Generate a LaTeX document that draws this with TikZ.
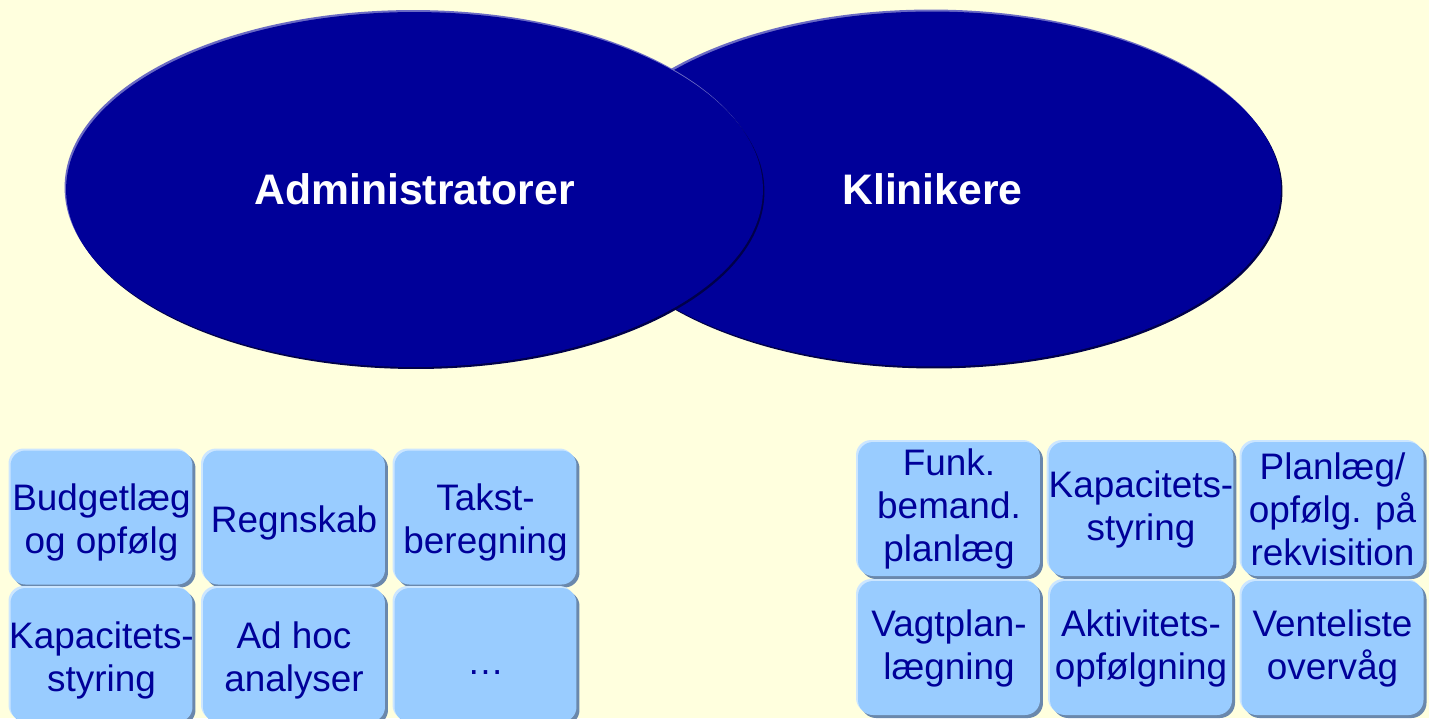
\documentclass[tikz,border=0pt]{standalone}
\usepackage{fontspec}
\setmainfont{Liberation Sans}
\usetikzlibrary{shapes.geometric}
\definecolor{bg}{HTML}{FFFFDE}
\definecolor{ellfill}{HTML}{000099}
\definecolor{ellhi}{HTML}{6A6AC4}
\definecolor{ellsh}{HTML}{00004A}
\definecolor{boxfill}{HTML}{99CCFF}
\definecolor{boxhi}{HTML}{CCE6FF}
\definecolor{boxsh}{HTML}{6A88AC}
\definecolor{boxtext}{HTML}{000099}
\begin{document}
\begin{tikzpicture}[x=0.02cm,y=-0.02cm,
  group/.style={ellipse, minimum width=13.94cm, minimum height=7.1cm, inner sep=0pt,
    fill=ellfill,
    preaction={fill=ellhi, transform canvas={xshift=-0.03cm,yshift=0.04cm}},
    preaction={fill=ellsh, transform canvas={xshift=0.03cm,yshift=-0.04cm}},
    text=white, font=\fontsize{24.3pt}{28pt}\selectfont\bfseries},
  tasklbl/.style={text=boxtext, align=center, inner sep=0pt,
    font=\fontsize{21pt}{24.5pt}\selectfont},
  task/.style={rectangle, rounded corners=0.3cm, minimum width=3.64cm, minimum height=2.68cm,
    inner sep=0pt, fill=boxfill,
    preaction={fill=boxhi, transform canvas={xshift=-0.04cm,yshift=0.04cm}},
    preaction={fill=boxsh, transform canvas={xshift=0.06cm,yshift=-0.06cm}},
    tasklbl}]
\useasboundingbox (0,0) rectangle (1429,718);
\fill[bg] (0,0) rectangle (1429,718);

\node[group] (klin) at (932.5,189) {Klinikere};
\node[group] (adm) at (414.5,189.5) {Administratorer};

% left group
\node[task, label={[tasklbl, yshift=-0.1cm]center:{Budgetlæg\\og opfølg}}] (a1) at (101.5,517.5) {};
\node[task, label={[tasklbl, yshift=-0.1cm]center:{Regnskab}}] (a2) at (294,517.5) {};
\node[task, label={[tasklbl, yshift=-0.1cm]center:{Takst-\\beregning}}] (a3) at (485.5,517.5) {};
\node[task, label={[tasklbl, yshift=-0.1cm]center:{Kapacitets-\\styring}}] (a4) at (101.5,655) {};
\node[task, label={[tasklbl, yshift=-0.1cm]center:{Ad hoc\\analyser}}] (a5) at (294,655) {};
\node[task, label={[tasklbl, yshift=-0.36cm]center:{…}}] (a6) at (485.5,655) {};

% right group
\node[task] (k1) at (949,509) {Funk.\\bemand.\\planlæg};
\node[task] (k2) at (1141,509) {Kapacitets-\\styring};
\node[task] (k3) at (1332.5,509) {Planlæg/\\opfølg. på\\rekvisition};
\node[task] (k4) at (949,648) {Vagtplan-\\lægning};
\node[task] (k5) at (1141,648) {Aktivitets-\\opfølgning};
\node[task] (k6) at (1332.5,648) {Venteliste\\overvåg};
\end{tikzpicture}
\end{document}
